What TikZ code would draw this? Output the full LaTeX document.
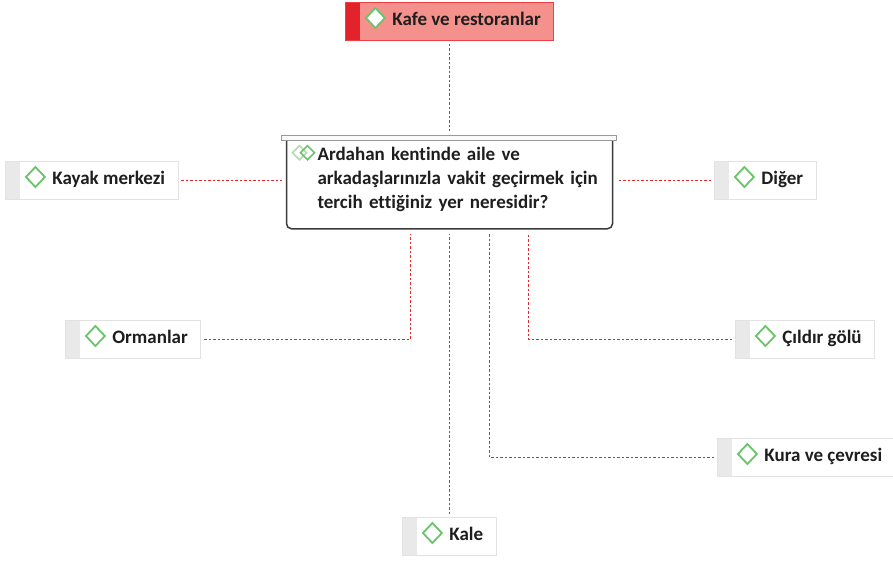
\documentclass[tikz,border=0pt]{standalone}
\usepackage{fontspec}
\usetikzlibrary{positioning, calc}
\newfontfamily\cbfont[Ligatures=NoCommon]{Carlito}
\definecolor{mmgreen}{HTML}{6CC46A}
\definecolor{mmlight}{HTML}{B2DCAC}
\definecolor{mmred}{HTML}{EE3F44}
\definecolor{mmdot}{HTML}{E8262B}
\definecolor{mmsalmon}{HTML}{F4918C}
\definecolor{mmbar}{HTML}{E3232C}
\definecolor{mmstrip}{HTML}{E9E9E9}
\definecolor{mmedge}{HTML}{E2E2E2}
\definecolor{mmdark}{HTML}{3A3A3A}
\definecolor{mmtext}{HTML}{1E1E1E}

\tikzset{
    strip color/.initial=mmstrip,
    leaf/.style={draw=mmedge, fill=white, line width=0.8pt, anchor=west,
        minimum height=38pt, inner xsep=13pt, text height=12.5pt, text depth=4pt,
        font=\cbfont\bfseries\fontsize{19}{24}\selectfont, text=mmtext,
        execute at begin node={\hspace*{34pt}},
        path picture={
            \fill[\pgfkeysvalueof{/tikz/strip color}] (path picture bounding box.north west)
                rectangle ([xshift=15pt]path picture bounding box.south west);
            \draw[mmgreen, line width=1.8pt, fill=white]
                ([xshift=30pt,yshift=3.5pt]path picture bounding box.west)
                ++(-9.5pt,0) -- ++(9.5pt,10pt) -- ++(9.5pt,-10pt) -- ++(-9.5pt,-10pt) -- cycle;
        }},
    hot/.style={leaf, fill=mmsalmon, draw=mmred, strip color=mmbar},
    qbox/.style={draw=mmdark, line width=1.5pt, rounded corners=5pt, anchor=north,
        inner xsep=0pt, inner ysep=0pt, text width=326pt, align=left,
        font=\cbfont\bfseries\fontsize{19}{24}\selectfont, text=mmtext,
        path picture={
            \draw[mmlight, line width=1.5pt, sharp corners]
                ([xshift=13pt,yshift=-17pt]path picture bounding box.north west)
                ++(-7pt,0) -- ++(7pt,7pt) -- ++(7pt,-7pt) -- ++(-7pt,-7pt) -- cycle;
            \draw[mmgreen, line width=1.5pt, sharp corners]
                ([xshift=21pt,yshift=-17pt]path picture bounding box.north west)
                ++(-7pt,0) -- ++(7pt,7pt) -- ++(7pt,-7pt) -- ++(-7pt,-7pt) -- cycle;
        }},
    topbar/.style={draw=gray!80, fill=gray!4, line width=1pt},
    link/.style={draw=mmdot, line width=1.8pt, dash pattern=on 2.5pt off 2pt,
        shorten <=3pt, shorten >=4pt}
}

\begin{document}
\begin{tikzpicture}[x=1pt, y=-1pt]
    \useasboundingbox (0,0) rectangle (893,562);

    % question in the middle
    \node[qbox] (q) at (449.5,135) {\rule{0pt}{24.5pt}\hspace*{31pt}Ardahan kentinde aile ve\\
        \hspace*{31pt}arkadaşlarınızla vakit geçirmek için\\
        \hspace*{31pt}tercih ettiğiniz yer neresidir?\rule[-20.5pt]{0pt}{20.5pt}};
    \draw[topbar] ([xshift=-4pt]q.north west) rectangle ([xshift=3pt,yshift=-5pt]q.north east);

    % answers
    \node[hot] (kafe) at (345,21.5) {Kafe ve restoranlar};
    \node[leaf] (kayak) at (5,180.5) {Kayak merkezi};
    \node[leaf] (diger) at (714,180.5) {Diğer};
    \node[leaf] (orman) at (65,339.5) {Ormanlar};
    \node[leaf] (cildir) at (735,339.5) {Çıldır gölü};
    \node[leaf] (kura) at (717,457.5) {Kura ve çevresi};
    \node[leaf] (kale) at (402,536.5) {Kale};

    % connectors
    \draw[link] (kafe.south -| q.north) -- (q.north);
    \draw[link] (kayak.east) -- (kayak.east -| q.west);
    \draw[link] (diger.west) -- (diger.west -| q.east);
    \draw[link] (orman.east) -| ([xshift=-39pt]q.south);
    \draw[link] (cildir.west) -| ([xshift=79pt]q.south);
    \draw[link] (kura.west) -| ([xshift=40pt]q.south);
    \draw[link] (kale.north -| q.south) -- (q.south);
\end{tikzpicture}
\end{document}
